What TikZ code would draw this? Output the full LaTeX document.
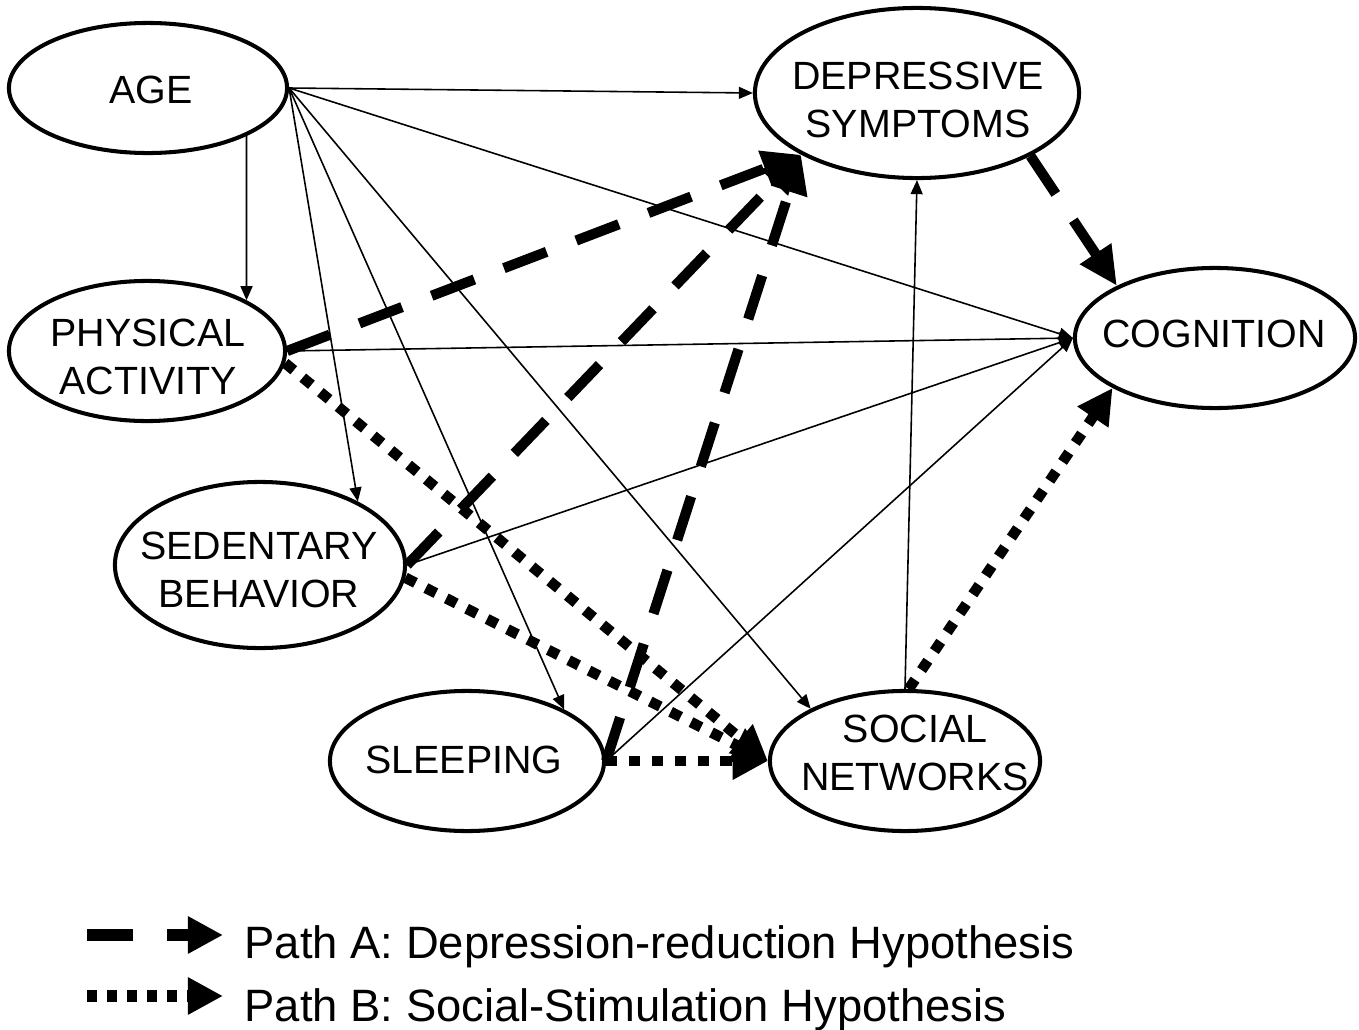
\documentclass[tikz,border=0pt]{standalone}
\usepackage{fontspec}
\setmainfont{Liberation Sans}
\usetikzlibrary{arrows.meta,shapes.geometric}
\begin{document}
\begin{tikzpicture}[x=0.01cm,y=-0.01cm,
  ell/.style={ellipse,draw,line width=1.15pt,inner sep=0pt},
  lbl/.style={align=center,font=\fontsize{11.2pt}{13.6pt}\selectfont,inner sep=0pt},
  thinarr/.style={line width=0.45pt,-{Triangle[length=4pt,width=3.4pt]}},
  patha/.style={line width=2.9pt,dash pattern=on 13pt off 9pt,-{Triangle[length=11pt,width=10pt]}},
  pathb/.style={line width=3pt,dash pattern=on 3.2pt off 3.3pt,-{Triangle[length=10pt,width=10pt]}},
  leg/.style={font=\fontsize{12.9pt}{15pt}\selectfont,anchor=base west,inner sep=0pt}
]
\useasboundingbox (0,0) rectangle (1359,1030);

% ellipses
\node[ell,minimum width=2.78cm,minimum height=1.30cm] (age) at (148,88) {};
\node[ell,minimum width=2.76cm,minimum height=1.40cm] (pa) at (147,351) {};
\node[ell,minimum width=3.24cm,minimum height=1.70cm] (dep) at (917,93) {};
\node[ell,minimum width=2.80cm,minimum height=1.40cm] (cog) at (1215,338) {};
\node[ell,minimum width=2.90cm,minimum height=1.66cm] (sb) at (260,565) {};
\node[ell,minimum width=2.74cm,minimum height=1.40cm] (sl) at (467,761) {};
\node[ell,minimum width=2.70cm,minimum height=1.40cm] (sn) at (905,761) {};

% labels
\node[lbl] (ageT) at (151,90) {AGE};
\node[lbl] (depT) at (918,100) {DEPRESSIVE\\SYMPTOMS};
\node[lbl] (paT) at (148,357) {PHYSICAL\\ACTIVITY};
\node[lbl] (cogT) at (1214,334) {COGNITION};
\node[lbl] (sbT) at (259,570) {SEDENTARY\\BEHAVIOR};
\node[lbl] (slT) at (464,760) {SLEEPING};
\node[lbl] (snT) at (915,753) {SOCIAL\\NETWORKS};

% thin paths
\draw[thinarr] (age.east) -- (dep.west);
\draw[thinarr] (age.east) -- (cog.west);
\draw[thinarr] (age.east) -- (sn.151);
\draw[thinarr] (age.east) -- (sl.28);
\draw[thinarr] (age.east) -- (sb.33);
\draw[thinarr] (age.-26) -- (pa.27);
\draw[thinarr] (pa.east) -- (cog.west);
\draw[thinarr] (sb.east) -- (cog.west);
\draw[thinarr] (sl.east) -- (cog.west);
\draw[thinarr] (sn.north) -- (dep.south);

% path A
\draw[patha] (pa.east) -- (dep.208);
\draw[patha] (sb.east) -- (dep.208);
\draw[patha] (sl.east) -- (dep.208);
\draw[patha] (dep.-29) -- (cog.152);

% path B
\draw[pathb] (pa.-5) -- (sn.west);
\draw[pathb] (sb.-5) -- (sn.west);
\draw[pathb] (sl.east) -- (sn.west);
\draw[pathb] (sn.87) -- (cog.206);

% legend
\coordinate (a1) at (87,935);
\coordinate (a2) at (133,935);
\coordinate (a3) at (167,935);
\coordinate (a4) at (223,935);
\coordinate (b1) at (87,996);
\coordinate (b2) at (223,996);
\draw[line width=3.5pt] (a1) -- (a2);
\draw[line width=3.5pt,-{Triangle[length=10pt,width=10pt]}] (a3) -- (a4);
\draw[line width=3.4pt,dash pattern=on 2.85pt off 2.85pt,-{Triangle[length=10pt,width=10pt]}] (b1) -- (b2);
\node[leg] (legA) at (244,958) {Path A: Depression-reduction Hypothesis};
\node[leg] (legB) at (244,1021) {Path B: Social-Stimulation Hypothesis};
\end{tikzpicture}
\end{document}
